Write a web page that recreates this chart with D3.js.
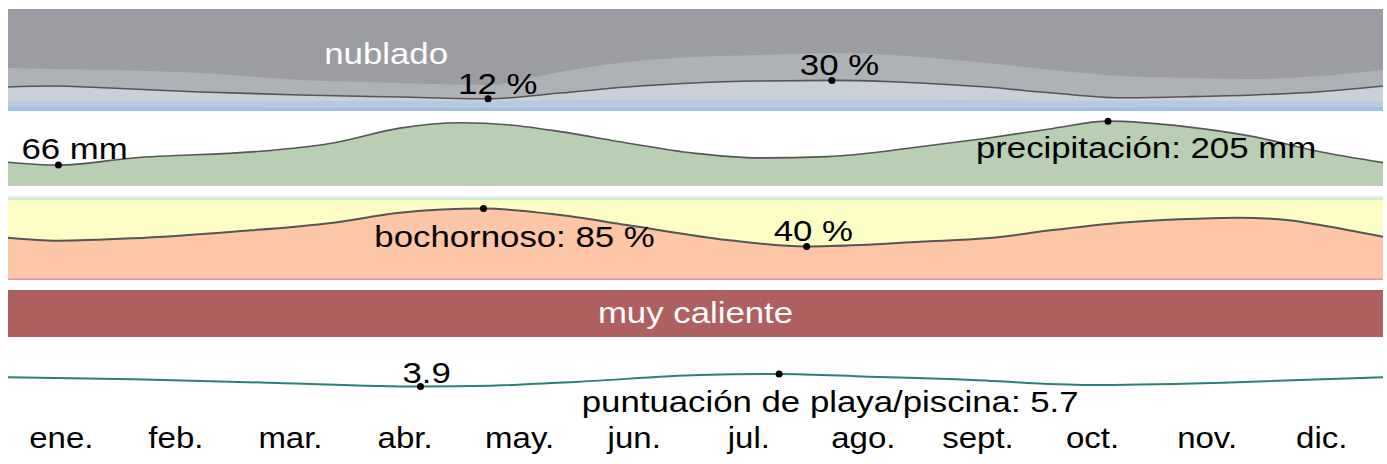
<!DOCTYPE html>
<html><head><meta charset="utf-8">
<script src="https://cdn.jsdelivr.net/npm/d3@7"></script>
<style>
html,body{margin:0;padding:0;background:#fff;}
svg{display:block;font-family:"Liberation Sans",Arial,sans-serif;}
</style></head>
<body><svg id="c" width="1387" height="464"></svg>
<script>
// ---- DATA (month positions are fractional months, 0 = 1 Jan, 12 = 31 Dec) ----
const months = ["ene.","feb.","mar.","abr.","may.","jun.","jul.","ago.","sept.","oct.","nov.","dic."];

// Cloud cover (% of time, cumulative from bottom)
const cloudPos       = [0,0.37,0.89,1.68,2.55,3.42,4.19,4.82,5.40,5.98,6.56,7.19,7.72,7.96,8.54,9.12,9.71,10.29,10.87,11.45,12];
const cloudClear     = [4,4,4,4,3.5,3.5,3,3,3,3,3,3,3,3,3,3.5,3.5,4,4,4,4];
const cloudMostClear = [9,9,9,9,9.5,10,10,10.5,11,11,11,11,11,11,10.5,10,10,10,9.5,9,9];
const cloudLine      = [23.5,24.5,22.5,18.6,15.7,13.7,12,17.6,23.5,27.5,29.4,30,28.7,27.5,23.5,17.6,13.0,14.0,15.7,18.9,24.5];
const cloudMostCloud = [42.2,41.2,40.2,37.3,30.4,27.5,25.5,38.2,48,52.9,54.9,56.9,54.9,52.9,47.1,40.2,34.3,32.4,31.4,34.3,40.2];

// Precipitation (mm)
const precipPos = [0,0.44,1.09,2.26,2.84,3.42,3.95,4.38,4.82,5.40,5.98,6.56,7.15,7.96,8.54,9.12,9.60,10.29,10.87,11.45,12];
const precipMm  = [75,66,88.5,111.5,136,183,200,193,172,136,104,89,93,124,151,182,205,187,156,108,74];

// Humidity comfort (% of time muggy or worse)
const humPos    = [0,0.43,1.09,1.96,2.84,3.42,4.15,4.82,5.40,6.28,6.97,7.44,7.96,8.54,9.12,9.71,10.29,10.73,11.16,11.45,12];
const humMuggy  = [50.4,46.8,49.6,57.5,68.2,80.1,85,77.4,65.5,47.6,40,41.7,45.6,49.6,59.5,68.2,72.6,74.2,71.4,65.5,51.5];
const humMisery = 1.6;   // thin oppressive band at bottom (%)
const humHumidTop = 95.3; // top of humid band (%)
const humComfTop  = 97.6; // top of comfortable band (%)

// Beach / pool score (0-10)
const beachPos   = [0,1.10,2.27,3.60,4.22,4.99,6.04,6.73,7.51,8.28,9.44,10.60,12];
const beachScore = [5.23,4.94,4.45,3.9,4.02,4.60,5.56,5.7,5.32,4.94,4.12,4.45,5.23];

// Annotations
const cloudMin = {m:4.19, v:12, label:"12 %"};
const cloudMax = {m:7.19, v:30, label:"30 %"};
const precipMin = {m:0.44, v:66, label:"66 mm"};
const precipMax = {m:9.60, v:205, label:"precipitación: 205 mm"};
const humMax = {m:4.15, v:85, label:"bochornoso: 85 %"};
const humMin = {m:6.97, v:40, label:"40 %"};
const beachMin = {m:3.60, v:3.9, label:"3.9"};
const beachMax = {m:6.73, v:5.7, label:"puntuación de playa/piscina: 5.7"};
const tempLabel = "muy caliente";
const cloudLabel = "nublado";

// ---- DRAWING ----
const svg = d3.select("#c");
const x = d3.scaleLinear().domain([0,12]).range([8,1383]);
const SX = 1.16; // horizontal text stretch of the original
const FS = 30;

function zip(pos, arr){ return pos.map((p,i)=>({m:p, v:arr[i]})); }
function txt(g, tx, ty, s, opts={}){
  return g.append("text")
    .attr("transform", `translate(${tx},${ty}) scale(${opts.sx || SX},1)`)
    .attr("font-size", FS)
    .attr("fill", opts.fill || "#000")
    .attr("text-anchor", opts.anchor || "start")
    .text(s);
}
function dot(g, cx, cy){ g.append("circle").attr("cx",cx).attr("cy",cy).attr("r",3.5).attr("fill","#000"); }

// Cloud panel
const yC = d3.scaleLinear().domain([0,100]).range([111,9]);
const gC = svg.append("g");
const cl = cloudPos.map((p,i)=>({m:p, a:cloudClear[i], b:cloudMostClear[i], c:cloudLine[i], d:cloudMostCloud[i]}));
const areaC = hi=>d3.area().x(d=>x(d.m)).y0(yC(0)).y1(d=>yC(hi(d))).curve(d3.curveMonotoneX);
gC.append("rect").attr("x",x(0)).attr("y",yC(100)).attr("width",x(12)-x(0)).attr("height",yC(0)-yC(100)).attr("fill","#9b9da2");
gC.append("path").datum(cl).attr("fill","#aeb1b6").attr("d",areaC(d=>d.d));
gC.append("path").datum(cl).attr("fill","#c9d0da").attr("d",areaC(d=>d.c));
gC.append("path").datum(cl).attr("fill","#b6c8e2").attr("d",areaC(d=>d.b));
gC.append("path").datum(cl).attr("fill","#a3bfe5").attr("d",areaC(d=>d.a));
gC.append("path").datum(zip(cloudPos,cloudLine)).attr("fill","none").attr("stroke","#555").attr("stroke-width",1.6)
  .attr("d", d3.line().x(d=>x(d.m)).y(d=>yC(d.v)).curve(d3.curveMonotoneX));

// Precip panel
const yP = d3.scaleLinear().domain([0,220]).range([186,116.4]);
const gP = svg.append("g");
const pd = zip(precipPos, precipMm);
gP.append("path").datum(pd).attr("fill","#b8cfb3")
  .attr("d", d3.area().x(d=>x(d.m)).y0(yP(0)).y1(d=>yP(d.v)).curve(d3.curveMonotoneX));
gP.append("path").datum(pd).attr("fill","none").attr("stroke","#555").attr("stroke-width",1.6)
  .attr("d", d3.line().x(d=>x(d.m)).y(d=>yP(d.v)).curve(d3.curveMonotoneX));

// Humidity panel
const yH = d3.scaleLinear().domain([0,100]).range([280,196]);
const gH = svg.append("g");
const hd = zip(humPos, humMuggy);
const W = x(12)-x(0);
gH.append("rect").attr("x",x(0)).attr("width",W).attr("y",yH(100)).attr("height",yH(humComfTop)-yH(100)).attr("fill","#e0f0f3");
gH.append("rect").attr("x",x(0)).attr("width",W).attr("y",yH(humComfTop)).attr("height",yH(humHumidTop)-yH(humComfTop)).attr("fill","#cdeec8");
gH.append("rect").attr("x",x(0)).attr("width",W).attr("y",yH(humHumidTop)).attr("height",yH(0)-yH(humHumidTop)).attr("fill","#fdfdc6");
gH.append("path").datum(hd).attr("fill","#fdc6a6")
  .attr("d", d3.area().x(d=>x(d.m)).y0(yH(0)).y1(d=>yH(d.v)).curve(d3.curveMonotoneX));
gH.append("rect").attr("x",x(0)).attr("width",W).attr("y",yH(humMisery)).attr("height",yH(0)-yH(humMisery)).attr("fill","#ff80a6");
gH.append("path").datum(hd).attr("fill","none").attr("stroke","#555").attr("stroke-width",2)
  .attr("d", d3.line().x(d=>x(d.m)).y(d=>yH(d.v)).curve(d3.curveMonotoneX));

// Temperature band
svg.append("rect").attr("x",x(0)).attr("width",W).attr("y",290).attr("height",47).attr("fill","#b05f5f");

// Beach score
const yB = d3.scaleLinear().domain([0,10]).range([413.6,344.2]);
svg.append("path").datum(zip(beachPos,beachScore)).attr("fill","none").attr("stroke","#2d7f7a").attr("stroke-width",2)
  .attr("d", d3.line().x(d=>x(d.m)).y(d=>yB(d.v)).curve(d3.curveMonotoneX));

// Labels & dots
const gL = svg.append("g");
txt(gL, x(cloudMin.m)-102, yC(cloudMin.v)-35, cloudLabel, {fill:"#fff", anchor:"middle"});
dot(gL, x(cloudMin.m), yC(cloudMin.v)); txt(gL, x(cloudMin.m)-30, yC(cloudMin.v)-5, cloudMin.label);
dot(gL, x(cloudMax.m), yC(cloudMax.v)); txt(gL, x(cloudMax.m)-32, yC(cloudMax.v)-5, cloudMax.label);
dot(gL, x(precipMin.m), yP(precipMin.v)); txt(gL, x(precipMin.m)-37, yP(precipMin.v)-6, precipMin.label);
dot(gL, x(precipMax.m), yP(precipMax.v)); txt(gL, x(precipMax.m)+38, yP(precipMax.v)+37, precipMax.label, {anchor:"middle"});
dot(gL, x(humMax.m), yH(humMax.v)); txt(gL, x(humMax.m)+31, yH(humMax.v)+38, humMax.label, {anchor:"middle"});
dot(gL, x(humMin.m), yH(humMin.v)); txt(gL, x(humMin.m)-33, yH(humMin.v)-5, humMin.label);
txt(gL, (x(0)+x(12))/2, 323, tempLabel, {fill:"#fff", anchor:"middle"});
dot(gL, x(beachMin.m), yB(beachMin.v)); txt(gL, x(beachMin.m)-18, yB(beachMin.v)-3.5, beachMin.label);
dot(gL, x(beachMax.m), yB(beachMax.v)); txt(gL, x(beachMax.m)+51, yB(beachMax.v)+38, beachMax.label, {anchor:"middle"});

// Month labels (one per equal-width month band)
const xm = d3.scaleBand().domain(months).range([x(0), x(12)]);
const ax = svg.append("g").attr("transform","translate(-4,448)");
months.forEach(mo => txt(ax, xm(mo)+xm.bandwidth()/2, 0, mo, {anchor:"middle", sx:1.1}));
</script></body></html>
